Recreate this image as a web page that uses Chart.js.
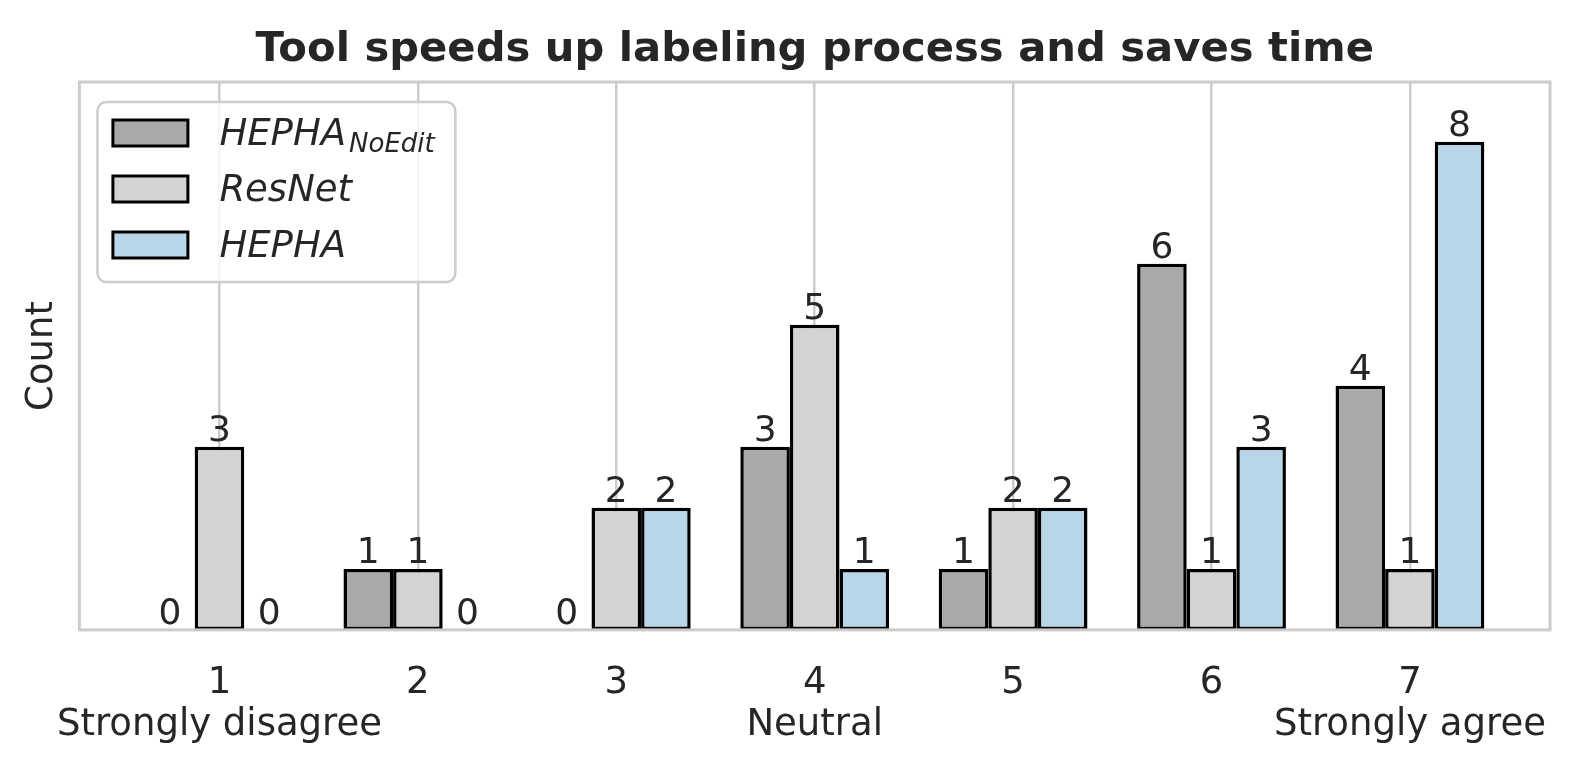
<!DOCTYPE html>
<html>
<head>
<meta charset="utf-8">
<script src="https://cdn.jsdelivr.net/npm/chart.js@4"></script>
<style>
  html, body { margin: 0; padding: 0; background: #fff; }
</style>
</head>
<body>
<canvas id="chart" width="1579" height="773"></canvas>
<script>
// Likert levels and the text shown under some of them
const levels = [1, 2, 3, 4, 5, 6, 7];
const levelNames = ["Strongly disagree", "", "", "Neutral", "", "", "Strongly agree"];

// counts per level
const hephaNoEdit = [0, 1, 0, 3, 1, 6, 4];
const resnet = [3, 1, 2, 5, 2, 1, 1];
const hepha = [0, 0, 2, 1, 2, 3, 8];

const seriesNames = ["HEPHA", "ResNet", "HEPHA"];
const seriesSubs = ["NoEdit", "", ""];
const seriesColors = ["#a9a9a9", "#d3d3d3", "#b8d6e7"];

const chartTitle = "Tool speeds up labeling process and saves time";
const textColor = "#262626";
const font = "DejaVu Sans";
const tickSize = 37, tickLine = 1.15, tickPad = 32;

const toPoints = (vals) => levels.map((x, i) => ({ x: x, y: vals[i] }));

const barLabels = {
  id: "barLabels",
  afterDatasetsDraw(chart) {
    const ctx = chart.ctx;
    ctx.save();
    ctx.fillStyle = textColor;
    ctx.font = `36px "${font}"`;
    ctx.textAlign = "center";
    ctx.textBaseline = "alphabetic";
    chart.data.datasets.forEach((ds, i) => {
      chart.getDatasetMeta(i).data.forEach((bar, j) => {
        ctx.fillText(String(ds.data[j].y), bar.x, bar.y - 6);
      });
    });
    ctx.restore();
  },
};

// light grey frame round the plot, drawn above the bars like matplotlib spines
const frame = {
  id: "frame",
  afterDatasetsDraw(chart) {
    const { ctx, chartArea: a } = chart;
    ctx.save();
    ctx.strokeStyle = "#cccccc";
    ctx.lineWidth = 3;
    ctx.strokeRect(a.left, a.top, a.right - a.left, a.bottom - a.top);
    ctx.restore();
  },
};

// title centred over the plot area (not the canvas), as matplotlib does
const axTitle = {
  id: "axTitle",
  afterDraw(chart) {
    const { ctx, chartArea: a } = chart;
    ctx.save();
    ctx.fillStyle = textColor;
    ctx.font = `bold 41.7px "${font}"`;
    ctx.textAlign = "center";
    ctx.textBaseline = "alphabetic";
    ctx.fillText(chartTitle, (a.left + a.right) / 2, a.top - 21);
    ctx.restore();
  },
};

// legend with subscript, Chart.js' own legend can't do that
const subLegend = {
  id: "subLegend",
  afterDraw(chart) {
    const { ctx, chartArea: a } = chart;
    const x0 = a.left + 18, y0 = a.top + 20;
    const w = 358, h = 180, r = 9;
    ctx.save();
    ctx.beginPath();
    ctx.roundRect(x0, y0, w, h, r);
    ctx.fillStyle = "rgba(255,255,255,0.8)";
    ctx.fill();
    ctx.strokeStyle = "#cccccc";
    ctx.lineWidth = 2.5;
    ctx.stroke();

    chart.data.datasets.forEach((ds, i) => {
      const cy = y0 + 31 + i * 56;
      ctx.fillStyle = "#000";
      ctx.fillRect(x0 + 14, cy - 14.5, 78, 29);
      ctx.fillStyle = ds.backgroundColor;
      ctx.fillRect(x0 + 17, cy - 11.5, 72, 23);

      ctx.fillStyle = textColor;
      ctx.textAlign = "left";
      ctx.textBaseline = "alphabetic";
      ctx.font = `italic 37px "${font}"`;
      const tx = x0 + 122;
      ctx.fillText(seriesNames[i], tx, cy + 12);
      if (seriesSubs[i]) {
        const tw = ctx.measureText(seriesNames[i]).width;
        ctx.font = `italic 26px "${font}"`;
        ctx.fillText(seriesSubs[i], tx + tw + 3, cy + 19);
      }
    });
    ctx.restore();
  },
};

new Chart(document.getElementById("chart"), {
  type: "bar",
  data: {
    datasets: [hephaNoEdit, resnet, hepha].map((vals, i) => ({
      label: seriesNames[i] + seriesSubs[i],
      data: toPoints(vals),
      backgroundColor: seriesColors[i],
      borderColor: "#000",
      borderWidth: 3.5,
      borderSkipped: false,
      categoryPercentage: 0.75,
      barPercentage: 1.0,
    })),
  },
  options: {
    responsive: false,
    animation: false,
    devicePixelRatio: 1,
    layout: { padding: { left: 16, right: 29, top: 82, bottom: 26 } },
    plugins: {
      legend: { display: false },
      tooltip: { enabled: false },
      title: { display: false },
    },
    scales: {
      x: {
        type: "linear",
        min: 0.294,
        max: 7.706,
        offset: false,
        afterBuildTicks: (axis) => {
          axis.ticks = levels.map((v) => ({ value: v }));
        },
        // labels fit inside the canvas, so no side padding; height = padding + two lines
        afterFit: (axis) => {
          axis.paddingLeft = 0;
          axis.paddingRight = 0;
          axis.height = tickPad + 2 * tickSize * tickLine;
        },
        grid: { color: "#cccccc", lineWidth: 2.5, drawTicks: false, offset: false },
        border: { display: false },
        ticks: {
          autoSkip: false,
          maxRotation: 0,
          padding: tickPad,
          color: textColor,
          font: { family: font, size: tickSize, lineHeight: tickLine },
          callback: (v) => [String(v), levelNames[levels.indexOf(v)]],
        },
      },
      y: {
        min: 0,
        max: 8.98,
        ticks: { display: false },
        grid: { display: false, drawTicks: false },
        border: { display: false },
        title: {
          display: true,
          text: "Count",
          color: textColor,
          font: { family: font, size: 37 },
          padding: { top: 4, bottom: 15 },
        },
      },
    },
  },
  plugins: [barLabels, frame, axTitle, subLegend],
});
</script>
</body>
</html>
